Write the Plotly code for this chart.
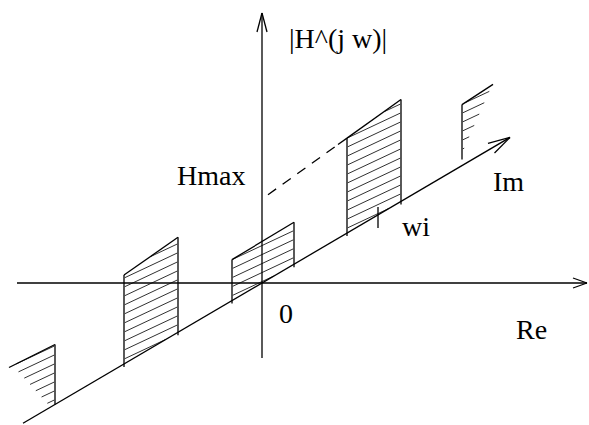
import plotly.graph_objects as go

# Oblique projection of the Im axis: one unit along Im moves 1 right and IM_SLOPE up
IM_SLOPE = 0.587

# Full passbands: Im positions of the left/right edges and |H| at those edges
BAND_W_LEFT = [-138, -30, 85]
BAND_W_RIGHT = [-84, 32, 139]
BAND_H_LEFT = [89, 41, 95]
BAND_H_RIGHT = [95, 42, 102]
EDGE_OVERSHOOT = 3

# Passbands cut off by the frame: kept edge, far end of the top line,
# and the two ends of the slanted cut bounding the hatching
PART_W_EDGE = [-207, 200]
PART_H_EDGE = [60, 61]
PART_EDGE_GAP = [0, 6]
PART_W_END = [-253, 231]
PART_H_END = [64, 63]
PART_CUT_TOP_W = [-250, 231]
PART_CUT_LOW_W = [-212, 200]
PART_CUT_LOW_H = [0, 11]

# Hatching
HATCH_SLOPE = 0.47
HATCH_STEP = 9

# Axes extents
RE_RANGE = [-245, 325]
MAG_RANGE = [-75, 270]
IM_RANGE = [-239, 248]
WI = 116
WI_TICK = [-13, 8]

# Hmax guide: the top of the passband at wi extended back to the |H| axis
HMAX_BAND = 2
HMAX_DASH_W = [6, 76]

LABELS = ["|H^(j w)|", "Hmax", "Im", "wi", "0", "Re"]
LABEL_X = [76, -51, 246, 154, 24, 269]
LABEL_Y = [245, 108, 102, 57, -30, -46]


def proj(w, h=0.0):
    return w, IM_SLOPE * w + h


def band_top(i, w):
    wl, wr = BAND_W_LEFT[i], BAND_W_RIGHT[i]
    hl, hr = BAND_H_LEFT[i], BAND_H_RIGHT[i]
    h = hl + (hr - hl) * (w - wl) / (wr - wl)
    return proj(w, h)


def clip_line(poly, c, s):
    """Segment of y = c + s*x inside a convex polygon."""
    xs = []
    n = len(poly)
    for k in range(n):
        x1, y1 = poly[k]
        x2, y2 = poly[(k + 1) % n]
        f1 = y1 - c - s * x1
        f2 = y2 - c - s * x2
        if f1 == f2:
            continue
        if (f1 <= 0 <= f2) or (f2 <= 0 <= f1):
            t = f1 / (f1 - f2)
            xs.append(x1 + t * (x2 - x1))
    if len(xs) < 2:
        return None
    a, b = min(xs), max(xs)
    if b - a < 1.5:
        return None
    return (a, c + s * a), (b, c + s * b)


def hatch(poly, s=HATCH_SLOPE, step=HATCH_STEP, offset=0.55):
    cs = [y - s * x for x, y in poly]
    c = min(cs) + step * offset
    xs, ys = [], []
    while c < max(cs):
        seg = clip_line(poly, c, s)
        if seg:
            (xa, ya), (xb, yb) = seg
            xs += [xa + 0.8, xb - 0.8, None]
            ys += [ya + 0.8 * s, yb - 0.8 * s, None]
        c += step
    return xs, ys


line_x, line_y = [], []
hat_x, hat_y = [], []


def seg(p, q):
    line_x.extend([p[0], q[0], None])
    line_y.extend([p[1], q[1], None])


# Full passbands
for i in range(len(BAND_W_LEFT)):
    wl, wr = BAND_W_LEFT[i], BAND_W_RIGHT[i]
    bl, br = proj(wl, -EDGE_OVERSHOOT), proj(wr, -EDGE_OVERSHOOT)
    tl, tr = band_top(i, wl), band_top(i, wr)
    seg(bl, tl)
    seg(br, tr)
    seg(tl, tr)
    poly = [proj(wl), proj(wr), tr, tl]
    hx, hy = hatch(poly)
    hat_x += hx
    hat_y += hy

# Passbands cut by the frame
for j in range(len(PART_W_EDGE)):
    we = PART_W_EDGE[j]
    e_bot = proj(we, PART_EDGE_GAP[j])
    e_top = proj(we, PART_H_EDGE[j])
    end = proj(PART_W_END[j], PART_H_END[j])
    seg(e_bot, e_top)
    seg(e_top, end)
    # top line value at the point where the cut leaves it
    wt = PART_CUT_TOP_W[j]
    frac = (wt - we) / (PART_W_END[j] - we)
    top_cut = (wt, e_top[1] + frac * (end[1] - e_top[1]))
    low_cut = proj(PART_CUT_LOW_W[j], PART_CUT_LOW_H[j])
    if j == 0:
        poly = [proj(we), e_top, top_cut, low_cut]
    else:
        poly = [low_cut, e_top, top_cut]
    hx, hy = hatch(poly, offset=0.6)
    hat_x += hx
    hat_y += hy

# Hmax dashed guide and the short solid overhang of the top line
band = HMAX_BAND
ov_a = band_top(band, HMAX_DASH_W[1])
ov_b = band_top(band, BAND_W_LEFT[band])
seg(ov_a, ov_b)
dash_a = band_top(band, HMAX_DASH_W[0])

# Axes
seg((RE_RANGE[0], 0), (RE_RANGE[1], 0))
seg((0, MAG_RANGE[0]), (0, MAG_RANGE[1]))
seg(proj(IM_RANGE[0]), proj(IM_RANGE[1]))
# wi tick
seg(proj(WI, WI_TICK[0]), proj(WI, WI_TICK[1]))

# Open arrowheads
seg((RE_RANGE[1] - 14, 5), (RE_RANGE[1], 0))
seg((RE_RANGE[1] - 14, -5), (RE_RANGE[1], 0))
seg((-5, MAG_RANGE[1] - 19), (0, MAG_RANGE[1]))
seg((5, MAG_RANGE[1] - 19), (0, MAG_RANGE[1]))
tip = proj(IM_RANGE[1])
seg((tip[0] - 22, tip[1] - 6), tip)
seg((tip[0] - 15.5, tip[1] - 15.5), tip)

fig = go.Figure()
fig.add_trace(go.Scatter(x=hat_x, y=hat_y, mode="lines",
                         line=dict(color="#1a1a1a", width=0.9),
                         hoverinfo="skip", showlegend=False))
fig.add_trace(go.Scatter(x=line_x, y=line_y, mode="lines",
                         line=dict(color="black", width=1.3),
                         hoverinfo="skip", showlegend=False))
fig.add_trace(go.Scatter(x=[dash_a[0], ov_a[0]], y=[dash_a[1], ov_a[1]],
                         mode="lines",
                         line=dict(color="black", width=1.3, dash="10px,8px"),
                         hoverinfo="skip", showlegend=False))

for txt, x, y in zip(LABELS, LABEL_X, LABEL_Y):
    fig.add_annotation(x=x, y=y, text=txt, showarrow=False,
                       xanchor="center", yanchor="middle",
                       font=dict(family="Liberation Serif, Times New Roman, serif",
                                 size=28, color="black"))

fig.update_layout(
    width=589, height=425,
    margin=dict(l=0, r=0, t=0, b=0),
    paper_bgcolor="white", plot_bgcolor="white",
    xaxis=dict(range=[-262, 327], visible=False, fixedrange=True),
    yaxis=dict(range=[-142, 283], visible=False, fixedrange=True),
    showlegend=False,
)

fig.write_html("out.html")
